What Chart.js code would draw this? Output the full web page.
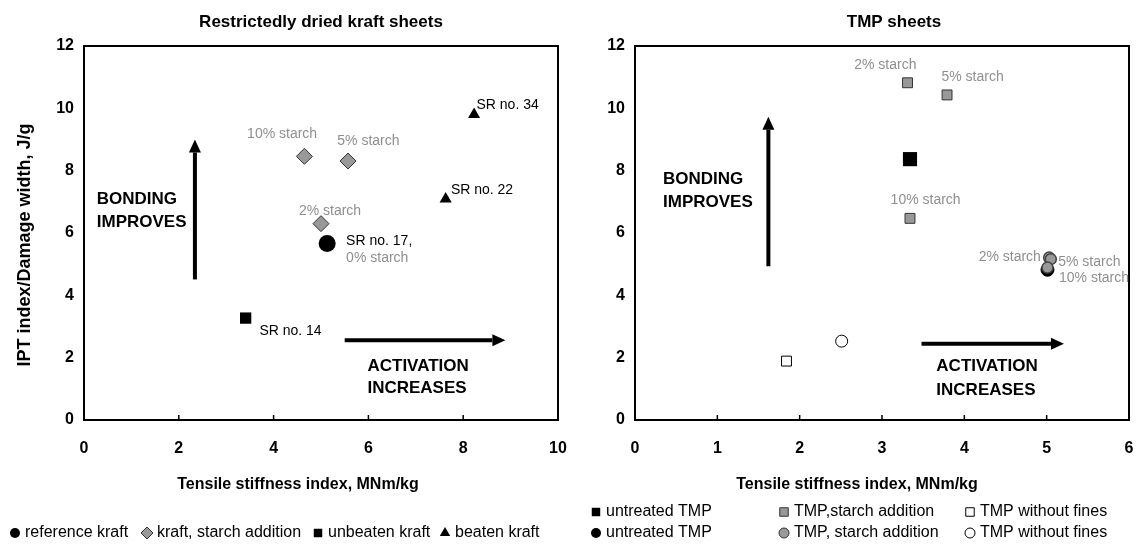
<!DOCTYPE html>
<html>
<head>
<meta charset="utf-8">
<script src="https://cdn.jsdelivr.net/npm/chart.js@4.4.1/dist/chart.umd.min.js"></script>
<style>
    html, body { margin: 0; padding: 0; background: #fff; overflow: hidden; }
    #wrap { position: relative; width: 1139px; height: 546px; }
    .pane { position: absolute; top: 0; height: 546px; }
    #left-pane { left: 0; width: 570px; }
    #right-pane { left: 570px; width: 569px; }
</style>
</head>
<body>
<div id="wrap">
    <div class="pane" id="left-pane"><canvas id="kraft-chart"></canvas></div>
    <div class="pane" id="right-pane"><canvas id="tmp-chart"></canvas></div>
</div>
<script>
// ---- Restrictedly dried kraft sheets ----
const refKraftX = [5.13];
const refKraftY = [5.66];
const starchKraftX = [4.65, 5.57, 5.00];
const starchKraftY = [8.46, 8.31, 6.30];
const unbeatenKraftX = [3.41];
const unbeatenKraftY = [3.27];
const beatenKraftX = [7.63, 8.23];
const beatenKraftY = [7.09, 9.80];

// ---- TMP sheets ----
const untreatedSqX = [3.34];
const untreatedSqY = [8.37];
const starchSqX = [3.31, 3.79, 3.34];
const starchSqY = [10.82, 10.43, 6.47];
const noFinesSqX = [1.84];
const noFinesSqY = [1.89];
const untreatedCircX = [5.01];
const untreatedCircY = [4.82];
const starchCircX = [5.03, 5.05, 5.01];
const starchCircY = [5.21, 5.16, 4.89];
const noFinesCircX = [2.51];
const noFinesCircY = [2.53];

// ---- axes ----
const kraftXTicks = [0, 2, 4, 6, 8, 10];
const tmpXTicks = [0, 1, 2, 3, 4, 5, 6];
const yTicks = [0, 2, 4, 6, 8, 10, 12];

const xTitle = 'Tensile stiffness index, MNm/kg';
const yTitle = 'IPT index/Damage width, J/g';

const FONT = "'Liberation Sans', Arial, Helvetica, sans-serif";
const GREY = '#8f8f8f';
const MARK_GREY = '#999999';

const toPoints = (xs, ys) => xs.map((x, i) => ({ x, y: ys[i] }));

function drawArrow(ctx, x0, y0, x1, y1) {
    const ang = Math.atan2(y1 - y0, x1 - x0);
    const headLen = 13, headHalf = 6;
    const bx = x1 - Math.cos(ang) * headLen, by = y1 - Math.sin(ang) * headLen;
    ctx.strokeStyle = '#000';
    ctx.fillStyle = '#000';
    ctx.lineWidth = 4;
    ctx.beginPath(); ctx.moveTo(x0, y0); ctx.lineTo(bx, by); ctx.stroke();
    ctx.beginPath();
    ctx.moveTo(x1, y1);
    ctx.lineTo(bx + Math.sin(ang) * headHalf, by - Math.cos(ang) * headHalf);
    ctx.lineTo(bx - Math.sin(ang) * headHalf, by + Math.cos(ang) * headHalf);
    ctx.closePath();
    ctx.fill();
}

function drawMarker(ctx, item, x, y) {
    ctx.fillStyle = item.fill;
    ctx.strokeStyle = item.stroke || '#000';
    ctx.lineWidth = item.border || 0;
    Chart.helpers.drawPoint(ctx, { pointStyle: item.style, radius: item.radius, borderWidth: item.border || 0, rotation: 0 }, x, y);
}

const decorPlugin = {
    id: 'decor',
    afterDatasetsDraw(chart, args, opts) {
        const { ctx, chartArea: a, scales: { x, y } } = chart;
        ctx.save();
        // short tick marks pointing into the plot
        ctx.strokeStyle = '#000';
        ctx.lineWidth = 1.5;
        x.ticks.forEach(t => {
            const px = x.getPixelForValue(t.value);
            ctx.beginPath(); ctx.moveTo(px, a.bottom); ctx.lineTo(px, a.bottom - 5); ctx.stroke();
        });
        ctx.lineWidth = 2;
        ctx.strokeRect(a.left, a.top, a.width, a.height);

        (opts.arrows || []).forEach(ar => drawArrow(ctx,
            x.getPixelForValue(ar.x0), y.getPixelForValue(ar.y0),
            x.getPixelForValue(ar.x1), y.getPixelForValue(ar.y1)));

        ctx.textBaseline = 'middle';
        (opts.notes || []).forEach(n => {
            ctx.font = `${n.bold ? 'bold ' : ''}${n.size || 14}px ${FONT}`;
            ctx.fillStyle = n.color || '#000';
            ctx.textAlign = n.align || 'left';
            ctx.fillText(n.text, x.getPixelForValue(n.x), y.getPixelForValue(n.y));
        });
        ctx.restore();
    },
    afterDraw(chart, args, opts) {
        const { ctx, chartArea: a } = chart;
        const mid = (a.left + a.right) / 2;
        ctx.save();
        ctx.fillStyle = '#000';
        ctx.textBaseline = 'middle';
        ctx.textAlign = 'center';
        ctx.font = `bold 17px ${FONT}`;
        ctx.fillText(opts.title, mid + (opts.titleShift || 0), 22);

        ctx.font = `bold 16px ${FONT}`;
        ctx.fillText(xTitle, mid + opts.xTitleShift, 485);

        if (opts.showYTitle) {
            ctx.save();
            ctx.translate(25, 245);
            ctx.rotate(-Math.PI / 2);
            ctx.font = `bold 18px ${FONT}`;
            ctx.fillText(yTitle, 0, 0);
            ctx.restore();
        }

        // legend, laid out item by item
        ctx.textAlign = 'left';
        ctx.font = `16px ${FONT}`;
        (opts.legend || []).forEach(item => {
            drawMarker(ctx, item, item.px, item.py);
            ctx.fillStyle = '#000';
            ctx.fillText(item.text, item.px + 10, item.py);
        });
        ctx.restore();
    }
};

function buildScales(xTicks, xMax, yWidth) {
    const tickFont = { family: FONT, size: 16, weight: 'bold' };
    return {
        x: {
            type: 'linear', min: 0, max: xMax,
            afterBuildTicks: s => { s.ticks = xTicks.map(v => ({ value: v })); },
            ticks: { color: '#000', font: tickFont, padding: 19, maxRotation: 0 },
            grid: { display: false, drawTicks: false },
            border: { display: false },
            afterFit: s => { s.height = 126; s.paddingLeft = 0; s.paddingRight = 0; },
        },
        y: {
            type: 'linear', min: 0, max: 12,
            afterBuildTicks: s => { s.ticks = yTicks.map(v => ({ value: v })); },
            ticks: { color: '#000', font: tickFont, padding: 10 },
            grid: { display: false, drawTicks: false },
            border: { display: false },
            afterFit: s => { s.width = yWidth; s.paddingTop = 0; s.paddingBottom = 0; },
        },
    };
}

function baseOptions(scales, decor, padRight) {
    return {
        responsive: true, maintainAspectRatio: false, animation: false,
        devicePixelRatio: 1,
        layout: { padding: { top: 46, right: padRight, bottom: 0, left: 0 } },
        plugins: { legend: { display: false }, tooltip: { enabled: false }, decor },
        scales,
    };
}

const ds = (xs, ys, style) => Object.assign({ data: toPoints(xs, ys), showLine: false }, style);

// left chart
new Chart(document.getElementById('kraft-chart'), {
    type: 'scatter',
    data: {
        datasets: [
            ds(refKraftX, refKraftY, { pointStyle: 'circle', pointRadius: 8.5, backgroundColor: '#000', borderColor: '#000', borderWidth: 0 }),
            ds(starchKraftX, starchKraftY, { pointStyle: 'rectRot', pointRadius: 8, backgroundColor: MARK_GREY, borderColor: '#333', borderWidth: 1 }),
            ds(unbeatenKraftX, unbeatenKraftY, { pointStyle: 'rect', pointRadius: 8, backgroundColor: '#000', borderColor: '#000', borderWidth: 0 }),
            ds(beatenKraftX, beatenKraftY, { pointStyle: 'triangle', pointRadius: 7, backgroundColor: '#000', borderColor: '#000', borderWidth: 0 }),
        ],
    },
    options: baseOptions(buildScales(kraftXTicks, 10, 84), {
        title: 'Restrictedly dried kraft sheets',
        xTitleShift: -23,
        showYTitle: true,
        arrows: [
            { x0: 2.34, y0: 4.51, x1: 2.34, y1: 9.0 },
            { x0: 5.50, y0: 2.56, x1: 8.89, y1: 2.56 },
        ],
        notes: [
            { text: '10% starch', x: 4.18, y: 9.16, color: GREY, align: 'center' },
            { text: '5% starch', x: 6.0, y: 8.94, color: GREY, align: 'center' },
            { text: '2% starch', x: 5.19, y: 6.69, color: GREY, align: 'center' },
            { text: 'SR no. 17,', x: 5.53, y: 5.75 },
            { text: '0% starch', x: 5.53, y: 5.19, color: GREY },
            { text: 'SR no. 14', x: 3.70, y: 2.86 },
            { text: 'SR no. 22', x: 7.74, y: 7.39 },
            { text: 'SR no. 34', x: 8.28, y: 10.09 },
            { text: 'BONDING', x: 0.27, y: 7.09, bold: true, size: 17 },
            { text: 'IMPROVES', x: 0.27, y: 6.34, bold: true, size: 17 },
            { text: 'ACTIVATION', x: 5.98, y: 1.71, bold: true, size: 17 },
            { text: 'INCREASES', x: 5.98, y: 1.01, bold: true, size: 17 },
        ],
        legend: [
            { style: 'circle', radius: 5, fill: '#000', px: 15, py: 533, text: 'reference kraft' },
            { style: 'rectRot', radius: 6, fill: MARK_GREY, stroke: '#333', border: 1, px: 147, py: 533, text: 'kraft, starch addition' },
            { style: 'rect', radius: 6, fill: '#000', px: 318, py: 533, text: 'unbeaten kraft' },
            { style: 'triangle', radius: 6, fill: '#000', px: 445, py: 533, text: 'beaten kraft' },
        ],
    }, 12),
    plugins: [decorPlugin],
});

// right chart
new Chart(document.getElementById('tmp-chart'), {
    type: 'scatter',
    data: {
        datasets: [
            ds(starchCircX, starchCircY, { order: 1, pointStyle: 'circle', pointRadius: 5.5, backgroundColor: MARK_GREY, borderColor: '#444', borderWidth: 1.5 }),
            ds(untreatedCircX, untreatedCircY, { order: 2, pointStyle: 'circle', pointRadius: 6.5, backgroundColor: '#000', borderColor: '#000', borderWidth: 1 }),
            ds(starchSqX, starchSqY, { order: 3, pointStyle: 'rect', pointRadius: 7, backgroundColor: MARK_GREY, borderColor: '#333', borderWidth: 1 }),
            ds(untreatedSqX, untreatedSqY, { order: 4, pointStyle: 'rect', pointRadius: 10, backgroundColor: '#000', borderColor: '#000', borderWidth: 0 }),
            ds(noFinesSqX, noFinesSqY, { order: 5, pointStyle: 'rect', pointRadius: 7, backgroundColor: '#fff', borderColor: '#000', borderWidth: 1 }),
            ds(noFinesCircX, noFinesCircY, { order: 6, pointStyle: 'circle', pointRadius: 6, backgroundColor: '#fff', borderColor: '#000', borderWidth: 1 }),
        ],
    },
    options: baseOptions(buildScales(tmpXTicks, 6, 65), {
        title: 'TMP sheets',
        titleShift: 12,
        xTitleShift: -25,
        showYTitle: false,
        arrows: [
            { x0: 1.62, y0: 4.93, x1: 1.62, y1: 9.73 },
            { x0: 3.48, y0: 2.45, x1: 5.21, y1: 2.45 },
        ],
        notes: [
            { text: '2% starch', x: 3.04, y: 11.38, color: GREY, align: 'center' },
            { text: '5% starch', x: 4.10, y: 10.99, color: GREY, align: 'center' },
            { text: '10% starch', x: 3.53, y: 7.07, color: GREY, align: 'center' },
            { text: '2% starch', x: 4.93, y: 5.21, color: GREY, align: 'right' },
            { text: '5% starch', x: 5.14, y: 5.05, color: GREY },
            { text: '10% starch', x: 5.15, y: 4.54, color: GREY },
            { text: 'BONDING', x: 0.34, y: 7.71, bold: true, size: 17 },
            { text: 'IMPROVES', x: 0.34, y: 6.97, bold: true, size: 17 },
            { text: 'ACTIVATION', x: 3.66, y: 1.72, bold: true, size: 17 },
            { text: 'INCREASES', x: 3.66, y: 0.96, bold: true, size: 17 },
        ],
        legend: [
            { style: 'rect', radius: 6, fill: '#000', px: 26, py: 512, text: 'untreated TMP' },
            { style: 'circle', radius: 5, fill: '#000', px: 26, py: 533, text: 'untreated TMP' },
            { style: 'rect', radius: 6, fill: MARK_GREY, stroke: '#333', border: 1, px: 214, py: 512, text: 'TMP,starch addition' },
            { style: 'circle', radius: 5, fill: MARK_GREY, stroke: '#333', border: 1, px: 214, py: 533, text: 'TMP, starch addition' },
            { style: 'rect', radius: 6, fill: '#fff', stroke: '#000', border: 1, px: 400, py: 512, text: 'TMP without fines' },
            { style: 'circle', radius: 5, fill: '#fff', stroke: '#000', border: 1, px: 400, py: 533, text: 'TMP without fines' },
        ],
    }, 7),
    plugins: [decorPlugin],
});
</script>
</body>
</html>
